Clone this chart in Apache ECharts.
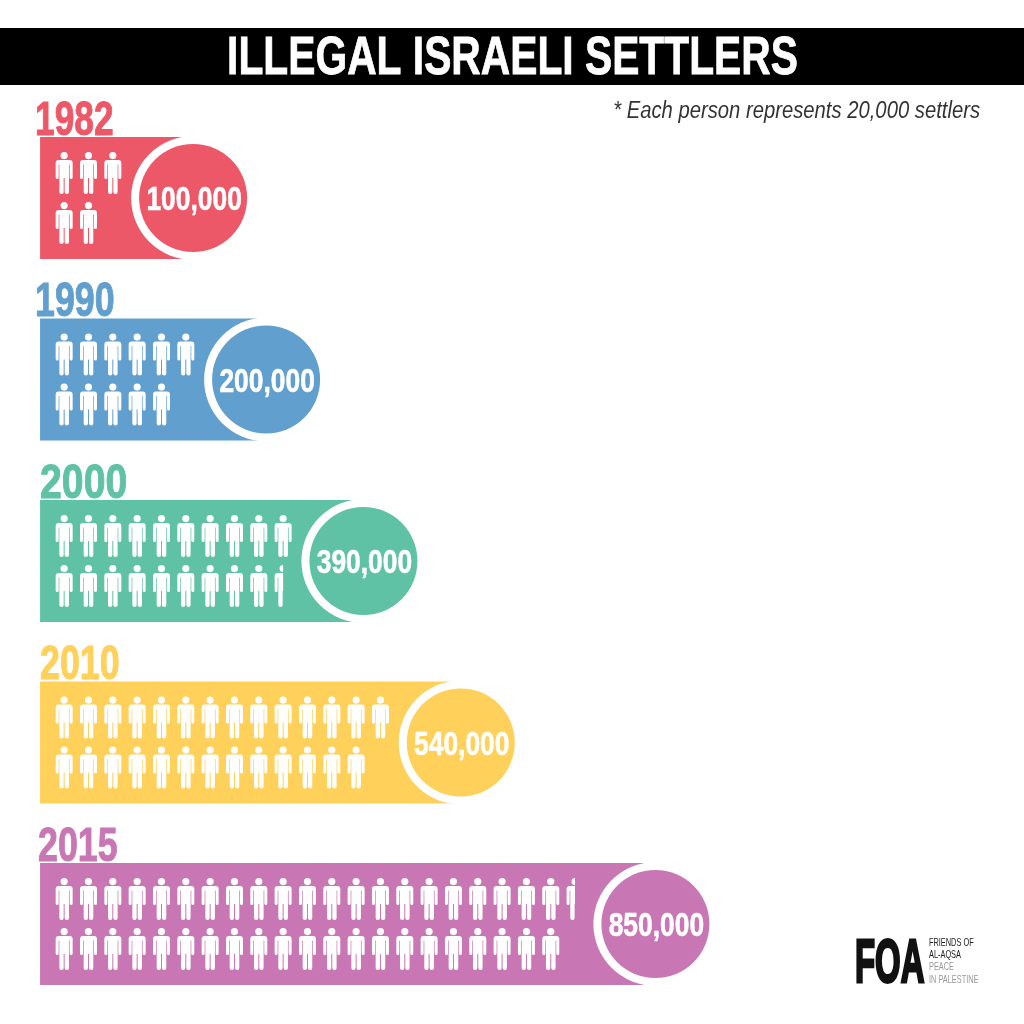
<!DOCTYPE html>
<html><head><meta charset="utf-8">
<style>html,body{margin:0;padding:0;background:#fff}#c{width:1024px;height:1024px}</style>
<script src="https://cdn.jsdelivr.net/npm/echarts@6/dist/echarts.min.js"></script>
</head><body><div id="c"></div>
<script>
const years = ['1982','1990','2000','2010','2015'];
const settlers = [100000,200000,390000,540000,850000];
const firstRowPeople = [3,6,10,14,21.5];
const secondRowPeople = [2,5,9.5,13,21];
const palette = ['#ED5868','#619FCE','#5FC2A5','#FFD15B','#C877B4'];
const titleText = 'ILLEGAL ISRAELI SETTLERS';
const noteText = '* Each person represents 20,000 settlers';
const logoLines = ['FRIENDS OF','AL-AQSA','PEACE','IN PALESTINE'];

const SANS = '"Liberation Sans",sans-serif';
const PERSON = 'path://M85 0a36 36 0 1 1 0 72a36 36 0 1 1 0-72ZM30 80H140Q170 80 170 110V255Q170 270 155 270Q140 270 140 255V125H133V400Q133 420 113 420Q90 420 90 400V260H80V400Q80 420 60 420Q37 420 37 400V125H30V255Q30 270 15 270Q0 270 0 255V110Q0 80 30 80Z';
const yearShift = [-5,-5,0,0,-2];
const yearScale = [0.72,0.73,0.80,0.73,0.73];

const chart = echarts.init(document.getElementById('c'), null, {renderer:'canvas'});
const fmt = v => v.toLocaleString('en-US');
const peopleSeries = (name, data) => ({
  type:'pictorialBar', name, data: data.map(v=>({value:v, itemStyle:{color:'#fff'}})),
  symbol:PERSON, symbolSize:[17,42], symbolRepeat:40, symbolMargin:'3.665!',
  symbolClip:true, symbolBoundingData:40, symbolPosition:'start',
  barWidth:42, barGap:'19%', z:5, silent:true, animation:false
});
const logoText = (t,i) => ({type:'text',z:10,x:929,y:943+i*12.2,scaleX:0.67,
  style:{text:t,fill:i<2?'#222':'#999',font:'11px '+SANS,verticalAlign:'middle'}});
chart.setOption({
  animation:false,
  backgroundColor:'#fff',
  grid:{left:0,top:107.25,width:1024,height:907.5,containLabel:false},
  xAxis:{type:'value',min:-2.137,max:39.95,show:false},
  yAxis:{type:'category',data:years,inverse:true,show:false},
  series:[
    {type:'custom',name:'panels',coordinateSystem:'cartesian2d',z:2,silent:true,
     data:years.map((y,i)=>[Math.ceil(firstRowPeople[i]),i]),
     encode:{x:0,y:1},
     renderItem(params,api){
       const i=api.value(1), cols=api.value(0);
       const c=api.coord([cols+2.8,i]);
       const l=api.coord([-0.49,i])[0];
       const col=palette[i];
       return {type:'group',children:[
         {type:'rect',shape:{x:l,y:c[1]-61,width:c[0]-l,height:122},style:{fill:col}},
         {type:'circle',shape:{cx:c[0],cy:c[1],r:62},style:{fill:'#fff'}},
         {type:'circle',shape:{cx:c[0],cy:c[1],r:54},style:{fill:col}},
         {type:'text',x:c[0]+1,y:c[1]+3,scaleX:0.8,style:{text:fmt(settlers[i]),fill:'#fff',stroke:'#fff',lineWidth:0.6,font:'bold 33px '+SANS,textAlign:'center',verticalAlign:'middle'}},
         {type:'text',x:l+yearShift[i],y:c[1]-77,scaleX:yearScale[i],style:{text:years[i],fill:col,stroke:col,lineWidth:1,font:'bold 49px '+SANS,textAlign:'left',verticalAlign:'middle'}}
       ]};
     }},
    peopleSeries('row 1',firstRowPeople),
    peopleSeries('row 2',secondRowPeople)
  ],
  graphic:[
    {type:'rect',z:1,shape:{x:0,y:28,width:1024,height:57},style:{fill:'#000'}},
    {type:'text',z:10,x:512.5,y:59,scaleX:0.755,style:{text:titleText,fill:'#fff',stroke:'#fff',lineWidth:0.8,font:'bold 54px '+SANS,textAlign:'center',verticalAlign:'middle'}},
    {type:'text',z:10,x:980,y:112,scaleX:0.88,style:{text:noteText,fill:'#333',font:'italic 23px '+SANS,textAlign:'right',verticalAlign:'middle'}},
    {type:'text',z:10,x:855,y:965,scaleX:0.53,style:{text:'FOA',fill:'#111',stroke:'#111',lineWidth:3,font:'bold 62px '+SANS,textAlign:'left',verticalAlign:'middle'}},
    ...logoLines.map(logoText)
  ]
});
</script></body></html>
